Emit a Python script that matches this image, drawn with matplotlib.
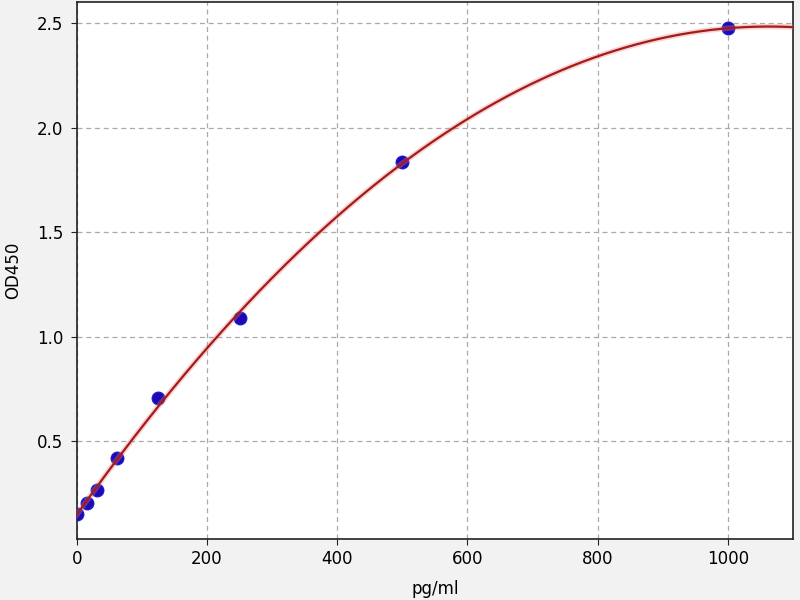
import numpy as np
import matplotlib
matplotlib.use("Agg")
import matplotlib.pyplot as plt

conc = [0, 15.6, 31.25, 62.5, 125, 250, 500, 1000]
od = [0.154, 0.207, 0.266, 0.42, 0.709, 1.089, 1.833, 2.475]
xticks = [0, 200, 400, 600, 800, 1000]
yticks = [0.5, 1.0, 1.5, 2.0, 2.5]

coef = np.polyfit(conc, od, 2)
xs = np.linspace(0, 1100, 400)
ys = np.polyval(coef, xs)

fig = plt.figure(figsize=(8, 6), dpi=100, facecolor="#f2f2f2")
ax = fig.add_axes([0.096, 0.1025, 0.895, 0.894])
ax.set_facecolor("white")
ax.grid(True, color="#aaaaaa", linestyle="--", linewidth=0.9, dashes=(4, 3))
ax.set_axisbelow(True)
ax.plot(conc, od, "o", color="#2008b0", markeredgecolor="#1a1ad0",
        markersize=9, zorder=3)
ax.plot(xs, ys, color="#f08080", linewidth=4, alpha=0.35, zorder=4)
ax.plot(xs, ys, color="#a31c1c", linewidth=1.6, zorder=5)
ax.set_xlim(0, 1100)
ax.set_ylim(0.035, 2.6)
ax.set_xticks(xticks)
ax.set_yticks(yticks)
ax.set_xlabel("pg/ml", fontsize=12, labelpad=9)
ax.set_ylabel("OD450", fontsize=12, labelpad=11)
ax.tick_params(labelsize=12, color="#222222", length=4.5)
ax.tick_params(axis="y", pad=5)
for s in ax.spines.values():
    s.set_color("#222222")
    s.set_linewidth(1.2)
fig.savefig("out.png", dpi=100, facecolor=fig.get_facecolor())
